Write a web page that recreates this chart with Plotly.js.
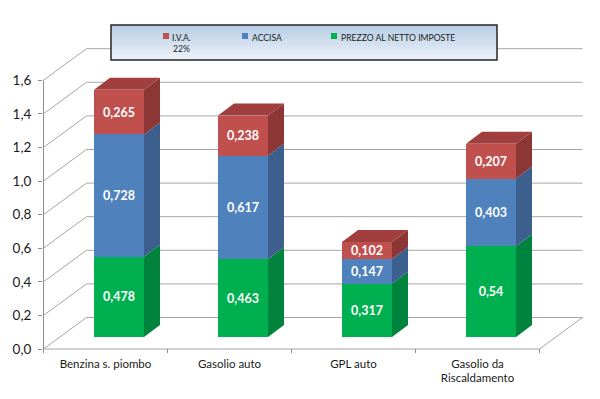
<!DOCTYPE html>
<html>
<head>
<meta charset="utf-8">
<script src="https://cdn.plot.ly/plotly-3.0.1.min.js"></script>
<style>
  html, body { margin: 0; padding: 0; background: #ffffff; }
  #chart { width: 600px; height: 399px; }
</style>
</head>
<body>
<div id="chart"></div>
<script>
// ---------------- DATA ----------------
const categories = ['Benzina s. piombo', 'Gasolio auto', 'GPL auto', 'Gasolio da<br>Riscaldamento'];
const prezzoNetto = [0.478, 0.463, 0.317, 0.54];
const accisa      = [0.728, 0.617, 0.147, 0.403];
const iva         = [0.265, 0.238, 0.102, 0.207];
const yTicks      = [0, 0.2, 0.4, 0.6, 0.8, 1.0, 1.2, 1.4, 1.6];
const nameIva     = 'I.V.A.';
const nameIvaSub  = '22%';
const nameAccisa  = 'ACCISA';
const namePrezzo  = 'PREZZO AL NETTO IMPOSTE';

// ---------------- STYLE / GEOMETRY ----------------
const FONT = 'Lato, "Open Sans", "Noto Sans", sans-serif';
const PX = { left: 43, right: 590, top: 20, bottom: 355, c0: 119, step: 124, base: 337, unit: 168 };
const xr = [(PX.left - PX.c0) / PX.step, (PX.right - PX.c0) / PX.step];
const yr = [(PX.base - PX.bottom) / PX.unit, (PX.base - PX.top) / PX.unit];
const hw  = 25 / PX.step;          // half bar width
const ddx = 16 / PX.step;          // bar depth (x)
const ddv = 12 / PX.unit;          // bar depth (y)
const fdx = -13.5 / PX.step, fdv = -12 / PX.unit;   // front plane offset
const bdx = 29.5 / PX.step,  bdv = 19.5 / PX.unit;  // back wall offset
const N = categories.length;
const wallL = -0.5, wallR = N - 0.5;

const series = [
  { name: namePrezzo, vals: prezzoNetto, front: '#00B050', side: '#00843D', top: '#00943F' },
  { name: nameAccisa, vals: accisa,      front: '#4F81BD', side: '#3C5F8D', top: '#456FA3' },
  { name: nameIva,    vals: iva,         front: '#C0504D', side: '#8C3735', top: '#A03F3D' }
];

const fmt = v => String(v).replace('.', ',');
const traces = [];

// front faces: stacked bars
series.forEach(s => {
  traces.push({
    type: 'bar',
    x: categories.map((c, i) => i),
    y: s.vals,
    width: 2 * hw,
    name: s.name,
    marker: { color: s.front, line: { width: 0 } },
    text: s.vals.map(fmt),
    textposition: 'inside',
    insidetextanchor: 'middle',
    constraintext: 'none',
    textfont: { family: FONT, size: 12.5, color: '#ffffff', weight: 'bold' },
    hoverinfo: 'skip',
    showlegend: false
  });
});

// side faces and top faces computed from the stacked values
const cum = categories.map(() => 0);
series.forEach((s, si) => {
  s.vals.forEach((v, i) => {
    const b = cum[i], t = b + v;
    const xa = i + hw;
    traces.push({
      type: 'scatter', mode: 'lines', fill: 'toself',
      x: [xa, xa + ddx, xa + ddx, xa, xa],
      y: [b, b + ddv, t + ddv, t, b],
      fillcolor: s.side, line: { width: 0, color: s.side },
      hoverinfo: 'skip', showlegend: false
    });
    cum[i] = t;
    if (si === series.length - 1) {
      traces.push({
        type: 'scatter', mode: 'lines', fill: 'toself',
        x: [i - hw, i + hw, i + hw + ddx, i - hw + ddx, i - hw],
        y: [t, t, t + ddv, t + ddv, t],
        fillcolor: s.top, line: { width: 0, color: s.top },
        hoverinfo: 'skip', showlegend: false
      });
    }
  });
});

// walls, grid and floor as shapes beneath
const GRID = '#A6A6A6';
const shapes = [];
const seg = (x0, y0, x1, y1, color, w) => shapes.push({
  type: 'line', xref: 'x', yref: 'y', x0, y0, x1, y1, layer: 'below',
  line: { color: color || GRID, width: w || 1 }
});
yTicks.forEach(v => {
  seg(wallL + fdx, v + fdv, wallL + bdx, v + bdv);
  seg(wallL + bdx, v + bdv, wallR + bdx, v + bdv);
});
seg(wallL + fdx, fdv, wallR + fdx, fdv);
seg(wallR + fdx, fdv, wallR + bdx, bdv);
seg(wallL + fdx, fdv, wallL + fdx, yTicks[yTicks.length - 1] + fdv, '#8C8C8C');
for (let k = 0; k <= N; k++) seg(k - 0.5 + fdx, fdv, k - 0.5 + fdx, fdv - 4 / PX.unit, '#8C8C8C');

// legend box (gradient) in paper coordinates
const pX = p => (p - PX.left) / (PX.right - PX.left);
const pY = p => (PX.bottom - p) / (PX.bottom - PX.top);
const LB = { x0: 111, x1: 497, y0: 25, y1: 60 };
const c1 = [184, 204, 228], c2 = [236, 242, 250];
const bands = 14;
for (let k = 0; k < bands; k++) {
  const f = k / (bands - 1);
  const col = 'rgb(' + c1.map((c, j) => Math.round(c + (c2[j] - c) * f)).join(',') + ')';
  const ya = LB.y0 + (LB.y1 - LB.y0) * k / bands, yb = LB.y0 + (LB.y1 - LB.y0) * (k + 1) / bands + 0.5;
  shapes.push({ type: 'rect', xref: 'paper', yref: 'paper', x0: pX(LB.x0), x1: pX(LB.x1), y0: pY(yb), y1: pY(ya),
    fillcolor: col, line: { width: 0 }, layer: 'above' });
}
shapes.push({ type: 'rect', xref: 'paper', yref: 'paper', x0: pX(LB.x0), x1: pX(LB.x1), y0: pY(LB.y1), y1: pY(LB.y0),
  fillcolor: 'rgba(0,0,0,0)', line: { width: 1.5, color: '#262626' }, layer: 'above' });

// legend entries
const legendItems = [
  { sq: 163, tx: 170, color: series[2].front, text: nameIva + '<br>' + nameIvaSub, align: 'center' },
  { sq: 242, tx: 250, color: series[1].front, text: nameAccisa, align: 'left' },
  { sq: 331, tx: 339, color: series[0].front, text: namePrezzo, align: 'left' }
];
const annotations = [];
legendItems.forEach(it => {
  shapes.push({ type: 'rect', xref: 'paper', yref: 'paper', x0: pX(it.sq), x1: pX(it.sq + 6), y0: pY(39), y1: pY(33),
    fillcolor: it.color, line: { width: 0 }, layer: 'above' });
  annotations.push({
    xref: 'paper', yref: 'paper', x: pX(it.tx), y: pY(30.5), xanchor: 'left', yanchor: 'top',
    text: it.text, align: it.align, showarrow: false,
    font: { family: FONT, size: 8.6, color: '#222222' }
  });
});

const layout = {
  width: 600, height: 399,
  margin: { l: PX.left, r: 600 - PX.right, t: PX.top, b: 399 - PX.bottom, pad: 0 },
  paper_bgcolor: '#ffffff', plot_bgcolor: 'rgba(0,0,0,0)',
  barmode: 'stack',
  showlegend: false,
  hovermode: false,
  xaxis: {
    range: xr, showgrid: false, zeroline: false, showline: false,
    tickvals: categories.map((c, i) => i + fdx), ticktext: categories,
    ticks: '', tickfont: { family: FONT, size: 11.5, color: '#1a1a1a' }, fixedrange: true
  },
  yaxis: {
    range: yr, showgrid: false, zeroline: false, showline: false,
    tickvals: yTicks.map(v => v + fdv), ticktext: yTicks.map(v => v.toFixed(1).replace('.', ',')),
    ticks: 'outside', ticklen: 4, tickcolor: '#8C8C8C', ticklabelstandoff: 4,
    tickfont: { family: FONT, size: 13.5, color: '#1a1a1a' }, fixedrange: true
  },
  shapes, annotations
};

Plotly.newPlot('chart', traces, layout, { staticPlot: true, displayModeBar: false });
</script>
</body>
</html>
